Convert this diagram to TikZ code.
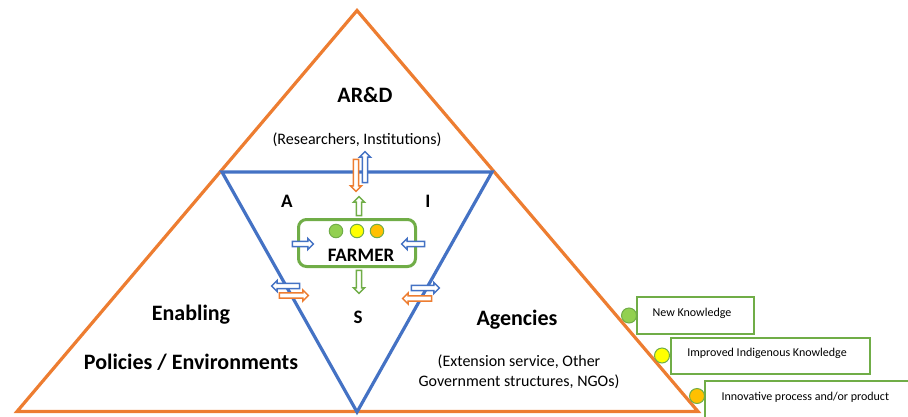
\documentclass[tikz,border=0pt]{standalone}
\usepackage{fontspec}
\setmainfont{Carlito}
\usetikzlibrary{shapes.arrows}
\definecolor{cOrange}{HTML}{ED7D31}
\definecolor{cBlue}{HTML}{4472C4}
\definecolor{cGreen}{HTML}{70AD47}
\definecolor{cLGreen}{HTML}{92D050}
\definecolor{cYellow}{HTML}{FFFF00}
\definecolor{cGold}{HTML}{FFC000}
\begin{document}
\begin{tikzpicture}[x=1pt,y=-1pt,
  harrow/.style={single arrow, draw=#1, fill=white, line width=1.5pt,
    inner xsep=0pt, inner ysep=1.9pt, single arrow head extend=2.8pt,
    minimum width=0pt},
  dot/.style={circle, draw=cGreen, line width=1pt, inner sep=0pt, minimum size=13.5pt},
  big/.style={font=\fontsize{22}{26}\selectfont\bfseries},
  mid/.style={font=\fontsize{19}{22}\selectfont\bfseries},
  sub/.style={font=\fontsize{16}{20}\selectfont, align=center},
  small/.style={font=\fontsize{12}{14}\selectfont},
  legbox/.style={draw=cGreen, line width=1.6pt, fill=white, anchor=north west}]
\useasboundingbox (0,0) rectangle (908,416);
\clip (0,0) rectangle (908,416);
% triangles
\coordinate (oT) at (357,10.5);
\coordinate (oL) at (17,411.5);
\coordinate (oR) at (698,411.5);
\coordinate (bL) at (222,172);
\coordinate (bR) at (492,172);
\coordinate (bB) at (357,412);
\draw[cOrange, line width=3.2pt] (oT) -- (oL) -- (oR) -- cycle;
\draw[cBlue, line width=3.2pt] (bL) -- (bR) -- (bB) -- cycle;
% texts
\node[big] (ard) at (365,95) {AR\&D};
\node[sub] (res) at (357,140) {(Researchers, Institutions)};
\node[big] (enab) at (191,315) {Enabling};
\node[big] (pol) at (191,362) {Policies / Environments};
\node[big] (agen) at (517,320) {Agencies};
\node[sub] (ext) at (519,372) {(Extension service, Other\\Government structures, NGOs)};
\node[mid] (la) at (287,201) {A};
\node[mid] (li) at (428,201) {I};
\node[mid] (ls) at (358,317) {S};
% farmer
\node[draw=cGreen, line width=3pt, rounded corners=8pt, minimum width=117pt,
  minimum height=47pt, inner sep=0pt] (farmer) at (357,243) {};
\node[font=\fontsize{19}{22}\selectfont\bfseries] (farmerlbl) at (361,255) {FARMER};
\node[dot, fill=cLGreen] (c1) at (336,231) {};
\node[dot, fill=cYellow] (c2) at (357,231) {};
\node[dot, fill=cGold] (c3) at (377,231) {};
% hollow arrows
\node[harrow=cOrange, minimum height=32pt, rotate=-90] (a1) at (356,174) {};
\node[harrow=cBlue, minimum height=31pt, rotate=90] (a2) at (365,168.5) {};
\node[harrow=cGreen, minimum height=19pt, rotate=90] (a3) at (359,207.5) {};
\node[harrow=cGreen, minimum height=23pt, rotate=-90] (a4) at (359,280.5) {};
\node[harrow=cBlue, minimum height=21pt] (a5) at (301.5,244) {};
\node[harrow=cBlue, minimum height=23pt, rotate=180] (a6) at (414.5,244) {};
\node[harrow=cBlue, minimum height=28pt, rotate=180] (a7) at (287,286) {};
\node[harrow=cOrange, minimum height=29pt] (a8) at (292.5,295.5) {};
\node[harrow=cBlue, minimum height=28pt] (a9) at (424,288) {};
\node[harrow=cOrange, minimum height=29pt, rotate=180] (a10) at (418.5,298.5) {};
% legend
\node[legbox, minimum width=117pt, minimum height=37pt, inner sep=0pt] (bx1) at (636,296) {};
\node[small] (t1) at (692,313) {New Knowledge};
\node[legbox, minimum width=199pt, minimum height=36pt, inner sep=0pt] (bx2) at (670,337) {};
\node[small] (t2) at (767,353) {Improved Indigenous Knowledge};
\node[legbox, minimum width=230pt, minimum height=50pt, inner sep=0pt] (bx3) at (704,380) {};
\node[small, anchor=west] (t3) at (718,397) {Innovative process and/or product};
\node[dot, fill=cLGreen, minimum size=15pt] (d1) at (629,315.5) {};
\node[dot, fill=cYellow, minimum size=15pt] (d2) at (662,355.5) {};
\node[dot, fill=cGold, minimum size=15pt] (d3) at (697,396) {};
\end{tikzpicture}
\end{document}
